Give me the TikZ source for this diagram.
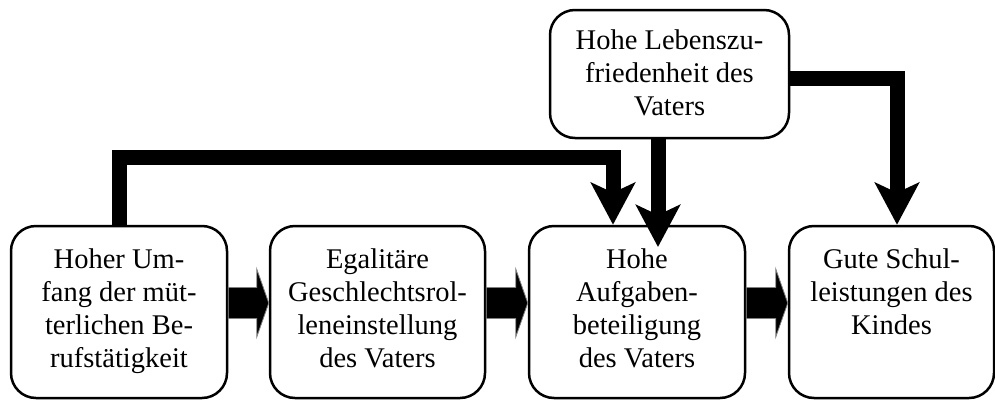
\documentclass[tikz,border=0pt]{standalone}
\usepackage{fontspec}
\setmainfont{Liberation Serif}
\usetikzlibrary{arrows.meta}
\begin{document}
\begin{tikzpicture}[x=1pt,y=-1pt,
  box/.style={draw, line width=2.5pt, rounded corners=25pt, inner sep=0pt, minimum height=172pt},
  txt/.style={anchor=north, align=center, inner sep=0pt, font=\fontsize{28.5}{33}\selectfont},
  bigarrow/.style={line width=15pt, -{Stealth[length=42pt,width=44pt,inset=10pt]}},
  blockarrow/.style={fill=black, draw=gray, line width=0.8pt, line join=miter}]
\useasboundingbox (0,0) rectangle (995,399);
% boxes
\node[box, minimum width=216pt] (b1) at (119,312) {};
\node[box, minimum width=215pt] (b2) at (377.5,312) {};
\node[box, minimum width=216pt] (b3) at (637,312) {};
\node[box, minimum width=205pt] (b4) at (891.5,312) {};
\node[box, minimum width=239pt, minimum height=128pt] (top) at (669.5,74) {};
% texts
\node[txt] (t1) at ([yshift=-23.5pt]b1.north) {Hoher Um-\\fang der müt-\\terlichen Be-\\rufstätigkeit};
\node[txt] (t2) at ([yshift=-23.5pt]b2.north) {Egalitäre\\Geschlechtsrol-\\leneinstellung\\des Vaters};
\node[txt] (t3) at ([yshift=-23.5pt]b3.north) {Hohe\\Aufgaben-\\beteiligung\\des Vaters};
\node[txt] (t4) at ([yshift=-23.5pt]b4.north) {Gute Schul-\\leistungen des\\Kindes};
\node[txt] (t5) at ([yshift=-20.5pt]top.north) {Hohe Lebenszu-\\friedenheit des\\Vaters};
% block arrows between boxes
\foreach \a/\b in {b1/b2, b2/b3, b3/b4}{
  \path (\a.east) ++(0,-9) coordinate (s) (\b.west) ++(0,-9) coordinate (e);
  \draw[blockarrow] (s) ++(0,-15.5) -- ([xshift=-12pt,yshift=15.5pt]e) -- ([xshift=-12pt,yshift=34pt]e) -- (e)
     -- ([xshift=-12pt,yshift=-34pt]e) -- ([xshift=-12pt,yshift=-15.5pt]e) -- ([yshift=-15.5pt]s) -- cycle;
}
% thick arrows
\coordinate (tipb) at (658,247);
\draw[bigarrow] (b1.north) -- ++(0,-67) -| ([xshift=-24pt]b3.north);
\draw[bigarrow] ([xshift=-11.5pt]top.south) -- (tipb);
\draw[bigarrow] ([yshift=-4pt]top.east) -| ([xshift=5.5pt]b4.north);
\end{tikzpicture}
\end{document}
